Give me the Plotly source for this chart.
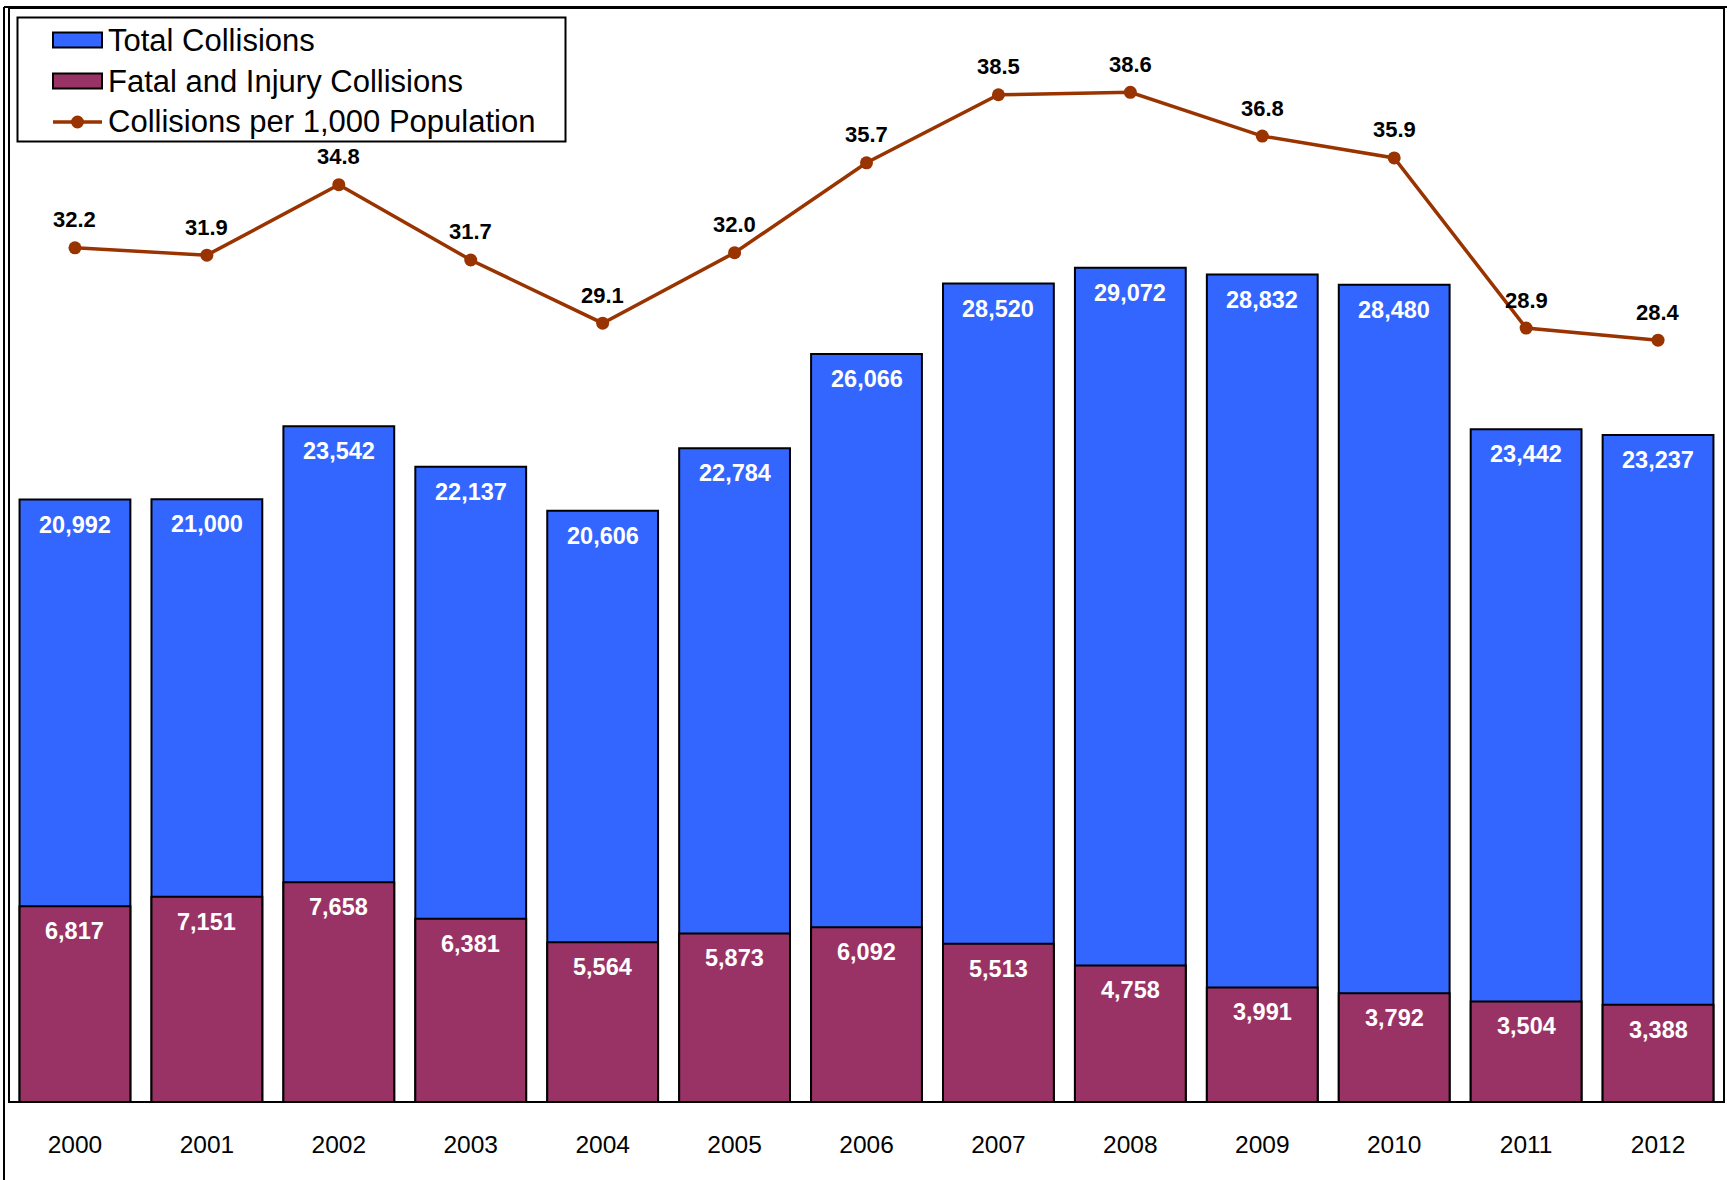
import plotly.graph_objects as go

# Collision statistics by year
years = ["2000", "2001", "2002", "2003", "2004", "2005", "2006",
         "2007", "2008", "2009", "2010", "2011", "2012"]
total_collisions = [20992, 21000, 23542, 22137, 20606, 22784, 26066,
                    28520, 29072, 28832, 28480, 23442, 23237]
fatal_injury = [6817, 7151, 7658, 6381, 5564, 5873, 6092,
                5513, 4758, 3991, 3792, 3504, 3388]
rate_per_1000 = [32.2, 31.9, 34.8, 31.7, 29.1, 32.0, 35.7,
                 38.5, 38.6, 36.8, 35.9, 28.9, 28.4]
series_names = ["Total Collisions", "Fatal and Injury Collisions",
                "Collisions per 1,000 Population"]

BLUE = "#3366FF"
MAROON = "#993366"
RUST = "#993300"
FONT = "Liberation Sans, Arial, sans-serif"

W, H = 1727, 1180
M_L, M_R, M_T, M_B = 9, 3, 8, 78
PLOT_W = W - M_L - M_R
PLOT_H = H - M_T - M_B


def px(x):
    """page pixel column -> paper x"""
    return (x - M_L) / PLOT_W


def py(y):
    """page pixel row -> paper y"""
    return (H - M_B - y) / PLOT_H


fig = go.Figure()

fig.add_trace(go.Bar(
    x=years, y=total_collisions, name=series_names[0],
    marker=dict(color=BLUE, line=dict(color="black", width=2)),
    hoverinfo="x+y", showlegend=False,
))
fig.add_trace(go.Bar(
    x=years, y=fatal_injury, name=series_names[1],
    marker=dict(color=MAROON, line=dict(color="black", width=2)),
    hoverinfo="x+y", showlegend=False,
))
fig.add_trace(go.Scatter(
    x=years, y=rate_per_1000, name=series_names[2],
    mode="lines+markers", yaxis="y2",
    line=dict(color=RUST, width=3.5),
    marker=dict(color=RUST, size=13),
    showlegend=False,
))

annotations = []
# value labels inside the top of each bar (x given as category index)
for i, v in enumerate(total_collisions):
    annotations.append(dict(
        x=i, y=v, xref="x", yref="y", text=f"<b>{v:,}</b>", showarrow=False,
        yanchor="middle", yshift=-25,
        font=dict(family=FONT, size=23.5, color="white"),
    ))
for i, v in enumerate(fatal_injury):
    annotations.append(dict(
        x=i, y=v, xref="x", yref="y", text=f"<b>{v:,}</b>", showarrow=False,
        yanchor="middle", yshift=-25,
        font=dict(family=FONT, size=23.5, color="white"),
    ))
# rate labels above each point
for i, v in enumerate(rate_per_1000):
    annotations.append(dict(
        x=i, y=v, xref="x", yref="y2", text=f"<b>{v:.1f}</b>", showarrow=False,
        yanchor="middle", yshift=28,
        font=dict(family=FONT, size=22, color="black"),
    ))

shapes = [
    # plot-area frame
    dict(type="rect", xref="paper", yref="paper", x0=0, x1=1, y0=0, y1=1,
         line=dict(color="black", width=2), layer="above"),
    # outer chart frame (left and top edges)
    dict(type="line", xref="paper", yref="paper", x0=px(4), x1=px(4),
         y0=py(H + 10), y1=py(7), line=dict(color="black", width=2)),
    dict(type="line", xref="paper", yref="paper", x0=px(4), x1=px(W + 10),
         y0=py(7), y1=py(7), line=dict(color="black", width=2)),
]

# legend: framed box with wide swatches
row_y = [40, 81, 122]
sw_x0, sw_x1 = 53, 102
shapes.append(dict(type="rect", xref="paper", yref="paper",
                   x0=px(17.5), x1=px(565.5), y0=py(141.5), y1=py(17.5),
                   line=dict(color="black", width=2), fillcolor="white",
                   layer="above"))
for yc, col in zip(row_y[:2], [BLUE, MAROON]):
    shapes.append(dict(type="rect", xref="paper", yref="paper",
                       x0=px(sw_x0), x1=px(sw_x1), y0=py(yc + 7.5), y1=py(yc - 7.5),
                       line=dict(color="black", width=2), fillcolor=col,
                       layer="above"))
shapes.append(dict(type="line", xref="paper", yref="paper",
                   x0=px(sw_x0), x1=px(sw_x1), y0=py(row_y[2]), y1=py(row_y[2]),
                   line=dict(color=RUST, width=3.5), layer="above"))
xc = (sw_x0 + sw_x1) / 2
shapes.append(dict(type="circle", xref="paper", yref="paper",
                   x0=px(xc - 6.5), x1=px(xc + 6.5),
                   y0=py(row_y[2] + 6.5), y1=py(row_y[2] - 6.5),
                   line=dict(color=RUST, width=0), fillcolor=RUST,
                   layer="above"))
for yc, name in zip(row_y, series_names):
    annotations.append(dict(
        x=px(106), y=py(yc), xref="paper", yref="paper", text=name,
        showarrow=False, xanchor="left", yanchor="middle",
        font=dict(family=FONT, size=31, color="black"),
    ))

hidden_y = dict(showgrid=False, zeroline=False, showline=False,
                showticklabels=False, ticks="")

fig.update_layout(
    width=W, height=H,
    margin=dict(l=M_L, r=M_R, t=M_T, b=M_B),
    paper_bgcolor="white", plot_bgcolor="white",
    barmode="overlay", bargap=0.16,
    font=dict(family=FONT, color="black"),
    showlegend=False,
    xaxis=dict(
        type="category", range=[-0.5, 12.5], showgrid=False, zeroline=False,
        showline=False, ticks="", ticklabelstandoff=25,
        tickfont=dict(family=FONT, size=24.5, color="black"),
    ),
    yaxis=dict(range=[0, 38120], **hidden_y),
    yaxis2=dict(range=[-2.95, 42.07], overlaying="y", side="right", **hidden_y),
    annotations=annotations,
    shapes=shapes,
)

fig.write_html("out.html")
